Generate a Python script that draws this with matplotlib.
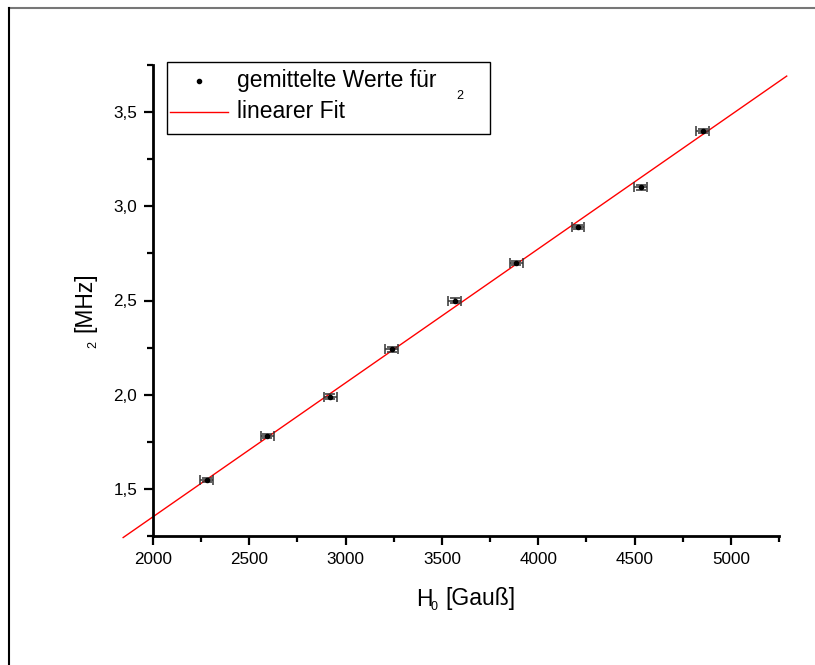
import matplotlib
matplotlib.use("Agg")
import matplotlib.pyplot as plt
from matplotlib.lines import Line2D
from matplotlib.patches import Rectangle
from matplotlib.ticker import MultipleLocator, FuncFormatter
import numpy as np

# ---- data ----
h0_gauss = [2279, 2594, 2920, 3240, 3566, 3886, 4207, 4532, 4853]
nu2_mhz = [1.548, 1.78, 1.99, 2.24, 2.50, 2.70, 2.89, 3.10, 3.40]
h0_err = [33, 33, 33, 33, 33, 33, 33, 33, 33]
nu2_err = [0.012, 0.012, 0.012, 0.012, 0.012, 0.012, 0.012, 0.012, 0.012]
fit_slope = 0.000711
fit_intercept = -0.070
fit_x_range = [1845, 5290]
x_ticks = [2000, 2500, 3000, 3500, 4000, 4500, 5000]
y_ticks = [1.5, 2.0, 2.5, 3.0, 3.5]

W, H = 815, 665
plt.rcParams['font.family'] = ['Liberation Sans', 'DejaVu Sans']
fig = plt.figure(figsize=(W / 100, H / 100), dpi=100)


def fx(x):
    return x / W


def fy(y):
    return 1 - y / H


ax = fig.add_axes([fx(153), fy(536), fx(779) - fx(153), fy(65) - fy(536)])
ax.set_xlim(2000, 5250)
ax.set_ylim(1.25, 3.75)

# fit line (not clipped, as in reference)
fx_arr = np.array(fit_x_range, dtype=float)
ax.plot(fx_arr, fit_slope * fx_arr + fit_intercept, color='red', lw=1.0,
        clip_on=False, zorder=2)

ax.errorbar(h0_gauss, nu2_mhz, xerr=h0_err, yerr=nu2_err, fmt='o',
            color='black', ms=3, elinewidth=1.1, capsize=3.6, capthick=1.1,
            ecolor='#333333', zorder=3)

for s in ['top', 'right']:
    ax.spines[s].set_visible(False)
for s in ['left', 'bottom']:
    ax.spines[s].set_linewidth(2.0)

ax.set_xticks(x_ticks)
ax.set_yticks(y_ticks)
ax.xaxis.set_minor_locator(MultipleLocator(250))
ax.yaxis.set_minor_locator(MultipleLocator(0.25))
ax.yaxis.set_major_formatter(FuncFormatter(lambda v, p: f"{v:.1f}".replace('.', ',')))
ax.tick_params(which='major', direction='out', length=6.5, width=1.6, labelsize=12.3, pad=5)
ax.tick_params(which='minor', direction='out', length=4, width=1.6)

# axis labels (subscripts placed as separate texts)
fig.text(fx(416), fy(599), "H", fontsize=16.5, ha='left', va='center')
fig.text(fx(431), fy(607), "0", fontsize=9, ha='left', va='center')
fig.text(fx(445), fy(599), "[Gauß]", fontsize=16.5, ha='left', va='center')
fig.text(fx(85), fy(302), "[MHz]", fontsize=16.5, rotation=90, ha='center', va='center')
fig.text(fx(93), fy(345), "2", fontsize=9, rotation=90, ha='center', va='center')

# legend (manual box)
fig.add_artist(Rectangle((fx(167), fy(134)), fx(490) - fx(167), fy(62) - fy(134),
                         transform=fig.transFigure, fill=True, facecolor='white',
                         edgecolor='black', lw=1.0, zorder=5))
fig.add_artist(Line2D([fx(199)], [fy(81)], marker='o', ms=3, color='black',
                      transform=fig.transFigure, zorder=6))
fig.add_artist(Line2D([fx(170), fx(228)], [fy(112), fy(112)], color='red', lw=1.0,
                      transform=fig.transFigure, zorder=6))
fig.text(fx(237), fy(81), "gemittelte Werte für", fontsize=16.5, ha='left', va='center', zorder=6)
fig.text(fx(456), fy(96), "2", fontsize=9, ha='left', va='center', zorder=6)
fig.text(fx(237), fy(112), "linearer Fit", fontsize=16.5, ha='left', va='center', zorder=6)

# page frame lines
fig.add_artist(Line2D([fx(9), fx(815)], [fy(8), fy(8)], color='#777777', lw=1.5,
                      transform=fig.transFigure))
fig.add_artist(Line2D([fx(9), fx(9)], [fy(8), fy(665)], color='black', lw=1.5,
                      transform=fig.transFigure))

fig.savefig("out.png", dpi=100)
